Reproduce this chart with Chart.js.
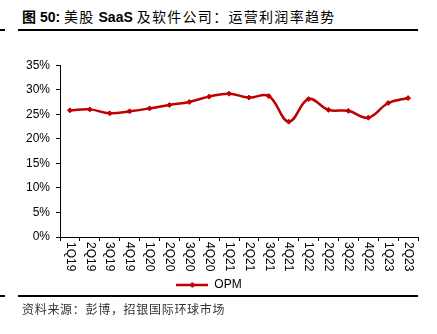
<!DOCTYPE html>
<html>
<head>
<meta charset="utf-8">
<script src="https://cdn.jsdelivr.net/npm/chart.js@4/dist/chart.umd.min.js"></script>
<style>
  html, body { margin: 0; padding: 0; background: #fff; }
  body { width: 437px; height: 334px; position: relative; overflow: hidden; font-family: "Liberation Sans", Arial, sans-serif; }
  .title { position: absolute; left: 22px; top: 6px; font-size: 14px; color: #000; font-family: "Liberation Sans", "Noto Sans CJK SC", sans-serif; white-space: nowrap; }
  .title b { font-weight: bold; }
  .title span { font-family: "Noto Sans CJK SC", sans-serif; letter-spacing: 1.3px; }
  .rule { position: absolute; background: #000; }
  .source { position: absolute; left: 22px; top: 300px; font-size: 12px; color: #333; letter-spacing: 0.7px; font-family: "Noto Sans CJK SC", sans-serif; white-space: nowrap; }
  #wrap { position: absolute; left: 0; top: 52px; width: 437px; height: 249px; }
</style>
</head>
<body>
<div class="title"><b>图 50:</b> <span>美股</span> <b>SaaS</b> <span>及软件公司：运营利润率趋势</span></div>
<div class="rule" style="left:18px; top:29px; width:400px; height:2px;"></div>
<div class="rule" style="left:0px; top:29px; width:5px; height:2px;"></div>
<div id="wrap"><canvas id="opmChart"></canvas></div>
<div class="rule" style="left:18px; top:295px; width:400px; height:2px;"></div>
<div class="rule" style="left:0px; top:295px; width:5px; height:2px;"></div>
<div class="source">资料来源：彭博，招银国际环球市场</div>

<script>
const quarters = ["1Q19","2Q19","3Q19","4Q19","1Q20","2Q20","3Q20","4Q20","1Q21","2Q21","3Q21","4Q21","1Q22","2Q22","3Q22","4Q22","1Q23","2Q23"];
const opm = [25.8, 26.0, 25.2, 25.6, 26.2, 26.9, 27.5, 28.6, 29.2, 28.4, 28.7, 23.5, 28.1, 25.9, 25.7, 24.3, 27.3, 28.3];
const seriesName = "OPM";
const lineRed = "#C00000";

// legend marker: line with a small diamond in the middle
const legendIcon = document.createElement('canvas');
legendIcon.width = 32; legendIcon.height = 8;
const lc = legendIcon.getContext('2d');
lc.strokeStyle = lineRed; lc.lineWidth = 2.5;
lc.beginPath(); lc.moveTo(0, 4); lc.lineTo(32, 4); lc.stroke();
lc.fillStyle = lineRed;
lc.beginPath(); lc.moveTo(16, 1); lc.lineTo(19, 4); lc.lineTo(16, 7); lc.lineTo(13, 4); lc.closePath(); lc.fill();

// x labels read top-to-bottom (rotated clockwise), drawn at the scale's tick positions
const downLabels = {
    id: 'downLabels',
    afterDraw(chart) {
        const xs = chart.scales.x;
        const c = chart.ctx;
        c.save();
        c.fillStyle = '#000';
        c.font = '12px "Liberation Sans"';
        c.textAlign = 'left';
        c.textBaseline = 'middle';
        quarters.forEach((q, i) => {
            const x = xs.getPixelForTick(i);
            c.save();
            c.translate(x, xs.top + 5);
            c.rotate(Math.PI / 2);
            c.fillText(q, 0, 0);
            c.restore();
        });
        c.restore();
    }
};

const ctx = document.getElementById('opmChart').getContext('2d');
new Chart(ctx, {
    type: 'line',
    data: {
        labels: quarters,
        datasets: [{
            label: seriesName,
            data: opm,
            borderColor: lineRed,
            backgroundColor: lineRed,
            borderWidth: 2.5,
            tension: 0.4,
            pointStyle: 'rectRot',
            pointRadius: 2.5,
            pointBorderWidth: 1
        }]
    },
    plugins: [downLabels],
    options: {
        responsive: true,
        maintainAspectRatio: false,
        animation: false,
        layout: { padding: { left: 0, right: 19, top: 8, bottom: 0 } },
        plugins: {
            legend: {
                position: 'bottom',
                labels: {
                    usePointStyle: true,
                    pointStyleWidth: 32,
                    color: '#000',
                    font: { family: 'Liberation Sans', size: 12 },
                    padding: 4,
                    generateLabels: (chart) => [{
                        text: seriesName,
                        pointStyle: legendIcon,
                        fillStyle: lineRed,
                        strokeStyle: lineRed,
                        lineWidth: 0,
                        fontColor: '#000',
                        datasetIndex: 0
                    }]
                }
            },
            tooltip: { enabled: false }
        },
        scales: {
            x: {
                offset: true,
                grid: { offset: true, drawOnChartArea: false, drawTicks: true, tickLength: 4, color: '#000' },
                border: { color: '#000', width: 1 },
                ticks: { display: false },
                afterFit: (s) => { s.height = 38; }
            },
            y: {
                min: 0,
                max: 35,
                grid: { drawOnChartArea: false, drawTicks: true, tickLength: 4, color: '#000' },
                border: { color: '#000', width: 1 },
                ticks: {
                    stepSize: 5,
                    color: '#000',
                    font: { family: 'Liberation Sans', size: 12 },
                    padding: 6,
                    callback: (v) => v + '%'
                },
                afterFit: (s) => { s.width = 60; }
            }
        }
    }
});
</script>
</body>
</html>
